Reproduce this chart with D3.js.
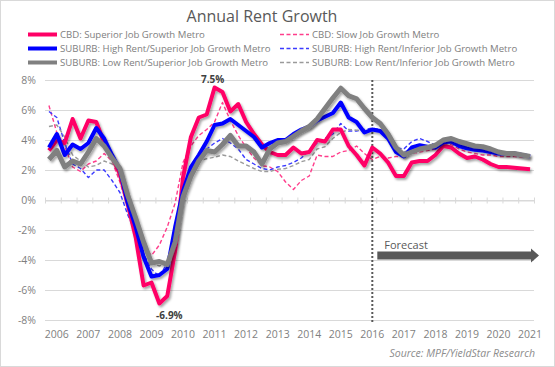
<!DOCTYPE html>
<html>
<head>
<meta charset="utf-8">
<script src="https://cdn.jsdelivr.net/npm/d3@7"></script>
<style>
    body { margin: 0; background: #fff; }
    svg { display: block; font-family: "Open Sans", "Lato", sans-serif; }
    .grid line { stroke: #d9d9d9; stroke-width: 1; }
    .tick-label { fill: #7f7f7f; font-size: 10.5px; }
    .legend-label { fill: #808080; font-size: 9.6px; }
</style>
</head>
<body>
<svg class="chart" width="555" height="367"></svg>
<script>
// quarterly values, 2005Q4 .. 2021Q1 (forecast from 2016Q1)
var cbdSuperior = [3.3, 4.0, 3.8, 5.4, 4.1, 5.3, 5.2, 3.8, 2.9, 1.7, -0.3, -2.5, -5.7, -5.5, -6.9, -6.4,
    -3.4, 1.5, 4.2, 5.5, 5.7, 7.5, 7.2, 5.9, 6.4, 5.2, 4.4, 3.7, 3.2, 3.0, 3.0, 3.5,
    3.1, 3.2, 4.0, 3.9, 4.7, 4.7, 3.6, 3.0, 2.3, 3.5, 3.1, 2.5, 1.6, 1.6, 2.5, 2.6,
    2.6, 3.0, 3.6, 3.5, 3.1, 2.8, 2.9, 2.7, 2.4, 2.2, 2.2, 2.15, 2.1, 2.05];
var cbdSlow = [6.3, 4.5, 3.6, 2.2, 1.9, 2.4, 2.6, 3.1, 2.6, 1.2, -0.5, -1.6, -3.0, -3.7, -3.0, -1.8,
    -0.2, 2.5, 3.6, 4.3, 4.7, 5.2, 6.5, 5.3, 4.3, 3.5, 2.8, 2.3, 2.2, 1.9, 1.2, 0.7,
    1.3, 1.6, 3.0, 2.9, 2.9, 3.2, 3.3, 3.6, 3.1, 2.7, 2.9, 2.8, 2.9, 2.9, 3.1, 3.2,
    3.3, 3.4, 3.75, 3.7, 3.4, 3.2, 3.1, 3.0, 3.0, 2.9, 2.9, 2.9, 2.85, 2.85];
var highRentSuperior = [3.5, 4.4, 3.0, 3.7, 3.4, 3.8, 4.8, 4.1, 3.0, 2.0, -0.2, -1.8, -3.8, -5.1, -5.0, -4.6,
    -1.8, 0.6, 2.2, 3.0, 3.9, 5.0, 5.1, 5.4, 5.0, 4.6, 4.2, 3.5, 3.8, 4.0, 4.0, 4.4,
    4.7, 4.9, 5.3, 5.55, 5.8, 6.5, 5.5, 5.2, 4.5, 4.7, 4.6, 4.1, 3.2, 2.9, 3.5, 3.65,
    3.55, 3.5, 3.85, 3.9, 3.6, 3.45, 3.35, 3.3, 3.2, 3.1, 3.1, 3.1, 3.0, 2.9];
var highRentInferior = [5.9, 5.5, 3.8, 2.4, 2.1, 1.5, 2.0, 2.0, 1.3, 0.5, -1.0, -2.2, -3.6, -4.6, -5.1, -4.2,
    -2.4, 0.2, 2.0, 2.8, 3.4, 3.8, 4.1, 3.8, 3.4, 2.7, 2.4, 2.1, 2.0, 2.2, 2.3, 2.5,
    2.8, 3.3, 3.8, 4.1, 4.4, 5.1, 4.6, 4.6, 4.7, 4.8, 4.7, 4.35, 3.5, 3.4, 3.9, 4.1,
    3.9, 3.65, 4.0, 4.0, 3.8, 3.55, 3.5, 3.4, 3.25, 3.2, 3.1, 3.1, 3.0, 3.0];
var lowRentSuperior = [2.7, 3.3, 2.2, 2.6, 2.4, 3.2, 4.1, 3.6, 2.8, 2.1, 0.3, -1.2, -2.8, -4.2, -4.1, -4.3,
    -2.8, 0.2, 1.6, 2.6, 3.3, 3.2, 3.7, 4.3, 3.6, 3.6, 3.2, 2.4, 3.4, 3.8, 3.9, 4.25,
    4.6, 4.9, 5.4, 6.1, 6.8, 7.45, 6.95, 6.75, 6.1, 5.5, 5.1, 4.4, 3.5, 3.0, 3.2, 3.4,
    3.5, 3.65, 4.0, 4.1, 3.9, 3.75, 3.6, 3.55, 3.4, 3.2, 3.1, 3.1, 3.0, 2.9];
var lowRentInferior = [4.9, 5.0, 4.2, 3.0, 2.6, 2.2, 2.3, 2.6, 2.4, 1.9, 0.3, -1.5, -3.2, -4.2, -4.4, -4.2,
    -2.8, 0.3, 1.9, 2.6, 2.75, 2.85, 3.0, 2.9, 2.6, 2.35, 2.1, 1.9, 1.9, 2.05, 2.1, 2.3,
    2.55, 2.7, 3.4, 3.55, 4.1, 4.5, 4.7, 4.65, 4.65, 4.6, 4.6, 4.2, 3.4, 3.2, 3.4, 3.6,
    3.6, 3.6, 3.95, 3.95, 3.7, 3.5, 3.4, 3.35, 3.2, 3.15, 3.1, 3.05, 3.0, 2.95];

var yearLabels = ["2006", "2007", "2008", "2009", "2010", "2011", "2012", "2013",
    "2014", "2015", "2016", "2017", "2018", "2019", "2020", "2021"];
var yTicks = [-8, -6, -4, -2, 0, 2, 4, 6, 8];
var forecastStart = 41;

var seriesList = [
    { name: "CBD: Slow Job Growth Metro", values: cbdSlow, color: "#ff3d8b", dashed: true },
    { name: "SUBURB: High Rent/Inferior Job Growth Metro", values: highRentInferior, color: "#3b3bff", dashed: true },
    { name: "SUBURB: Low Rent/Inferior Job Growth Metro", values: lowRentInferior, color: "#9a9a9a", dashed: true },
    { name: "CBD: Superior Job Growth Metro", values: cbdSuperior, color: "#ff0066", dashed: false, width: 4 },
    { name: "SUBURB: High Rent/Superior Job Growth Metro", values: highRentSuperior, color: "#0000ff", dashed: false, width: 4 },
    { name: "SUBURB: Low Rent/Superior Job Growth Metro", values: lowRentSuperior, color: "#808080", dashed: false, width: 5 }
];
// legend layout follows the reference: solids left, dashed right
var legendOrder = [3, 0, 4, 1, 5, 2];

var svg = d3.select("svg.chart");
var W = 555, H = 367;

svg.append("rect")
    .attr("x", 0.5).attr("y", 0.5)
    .attr("width", W - 1).attr("height", H - 1)
    .attr("fill", "#fff")
    .attr("stroke", "#d9d9d9");

var defs = svg.append("defs");
var shadow = defs.append("filter")
    .attr("id", "line-shadow")
    .attr("x", "-10%").attr("y", "-10%")
    .attr("width", "120%").attr("height", "120%");
shadow.append("feDropShadow")
    .attr("dx", 1.5).attr("dy", 2)
    .attr("stdDeviation", 1.3)
    .attr("flood-color", "#000")
    .attr("flood-opacity", 0.35);

var xScale = d3.scaleLinear()
    .domain([-0.5, cbdSuperior.length - 0.5])
    .range([45, 534]);
var yScale = d3.scaleLinear()
    .domain([-8, 8])
    .range([320, 80]);

// title
svg.append("text")
    .attr("x", 262).attr("y", 22)
    .attr("text-anchor", "middle")
    .attr("fill", "#595959")
    .style("font-size", "16px")
    .text("Annual Rent Growth");

// gridlines
var grid = svg.append("g").classed("grid", true);
grid.selectAll("line")
    .data(yTicks)
    .enter()
    .append("line")
    .attr("x1", xScale.range()[0])
    .attr("x2", xScale.range()[1])
    .attr("y1", function (d) { return Math.round(yScale(d)) + 0.5; })
    .attr("y2", function (d) { return Math.round(yScale(d)) + 0.5; });

// y labels
svg.append("g")
    .selectAll("text")
    .data(yTicks)
    .enter()
    .append("text")
    .classed("tick-label", true)
    .attr("x", 36)
    .attr("y", function (d) { return yScale(d); })
    .attr("dy", "0.35em")
    .attr("text-anchor", "end")
    .text(function (d) { return d + "%"; });

// x axis on the zero line, ticks every two quarters
var xAxis = d3.axisBottom(xScale)
    .tickValues(d3.range(-0.5, cbdSuperior.length, 2))
    .tickSize(3)
    .tickSizeOuter(0)
    .tickFormat("");
var axisG = svg.append("g")
    .attr("transform", "translate(0," + (Math.round(yScale(0)) + 0.5) + ")")
    .call(xAxis);
axisG.select(".domain").attr("stroke", "#d9d9d9");
axisG.selectAll(".tick line")
    .attr("stroke", "#d9d9d9")
    .attr("y1", -3)
    .attr("y2", 3);

// year labels sit under the first quarter of each year
svg.append("g")
    .selectAll("text")
    .data(yearLabels)
    .enter()
    .append("text")
    .classed("tick-label", true)
    .attr("x", function (d, i) { return xScale(1 + 4 * i); })
    .attr("y", 338)
    .attr("text-anchor", "middle")
    .text(function (d) { return d; });

// forecast divider
svg.append("line")
    .attr("x1", xScale(forecastStart)).attr("x2", xScale(forecastStart))
    .attr("y1", 80).attr("y2", 322)
    .attr("stroke", "#595959")
    .attr("stroke-width", 2)
    .attr("stroke-dasharray", "2,2");

// series
var line = d3.line()
    .x(function (d, i) { return xScale(i); })
    .y(function (d) { return yScale(d); });

svg.append("g")
    .selectAll("path")
    .data(seriesList)
    .enter()
    .append("path")
    .attr("fill", "none")
    .attr("stroke", function (d) { return d.color; })
    .attr("stroke-width", function (d) { return d.dashed ? 1.4 : d.width; })
    .attr("stroke-dasharray", function (d) { return d.dashed ? "4,2.5" : null; })
    .attr("stroke-linejoin", "round")
    .attr("filter", function (d) { return d.dashed ? null : "url(#line-shadow)"; })
    .attr("d", function (d) { return line(d.values); });

// peak / trough labels
var peakIndex = d3.maxIndex(cbdSuperior);
var troughIndex = d3.minIndex(cbdSuperior);
svg.append("text")
    .attr("x", xScale(peakIndex) - 2)
    .attr("y", yScale(cbdSuperior[peakIndex]) - 5)
    .attr("text-anchor", "middle")
    .attr("fill", "#404040")
    .style("font-size", "10px")
    .style("font-weight", "bold")
    .text(cbdSuperior[peakIndex].toFixed(1) + "%");
svg.append("text")
    .attr("x", xScale(troughIndex) + 10)
    .attr("y", yScale(cbdSuperior[troughIndex]) + 15)
    .attr("text-anchor", "middle")
    .attr("fill", "#404040")
    .style("font-size", "10px")
    .style("font-weight", "bold")
    .text(cbdSuperior[troughIndex].toFixed(1) + "%");

// forecast arrow
var arrowX0 = xScale(forecastStart) + 5;
var arrowX1 = 539;
var arrowY = yScale(-3.7);
svg.append("path")
    .attr("fill", "#595959")
    .attr("d", "M" + arrowX0 + "," + (arrowY - 4) +
        "L" + (arrowX1 - 8) + "," + (arrowY - 4) +
        "L" + (arrowX1 - 8) + "," + (arrowY - 7) +
        "L" + arrowX1 + "," + arrowY +
        "L" + (arrowX1 - 8) + "," + (arrowY + 7) +
        "L" + (arrowX1 - 8) + "," + (arrowY + 4) +
        "L" + arrowX0 + "," + (arrowY + 4) + "Z");
svg.append("text")
    .attr("x", arrowX0 + 7)
    .attr("y", arrowY - 7)
    .attr("fill", "#595959")
    .style("font-size", "11px")
    .text("Forecast");

// legend
var legend = svg.append("g");
legend.selectAll("g")
    .data(legendOrder)
    .enter()
    .append("g")
    .each(function (seriesIndex, i) {
        var s = seriesList[seriesIndex];
        var lx = (i % 2 === 0) ? 28 : 280;
        var ly = 34.5 + Math.floor(i / 2) * 14;
        var g = d3.select(this);
        g.append("line")
            .attr("x1", lx).attr("x2", lx + 29)
            .attr("y1", ly).attr("y2", ly)
            .attr("stroke", s.color)
            .attr("stroke-width", s.dashed ? 1.4 : 4)
            .attr("stroke-dasharray", s.dashed ? "4,2.5" : null);
        g.append("text")
            .classed("legend-label", true)
            .attr("x", lx + 32)
            .attr("y", ly)
            .attr("dy", "0.35em")
            .text(s.name);
    });

svg.append("text")
    .attr("x", 535).attr("y", 357)
    .attr("text-anchor", "end")
    .attr("fill", "#8c8c8c")
    .style("font-size", "10.5px")
    .style("font-style", "italic")
    .text("Source: MPF/YieldStar Research");
</script>
</body>
</html>
